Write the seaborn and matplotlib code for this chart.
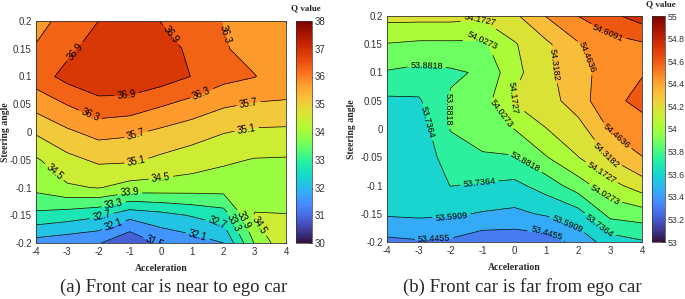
import numpy as np
import matplotlib
matplotlib.use('Agg')
import matplotlib.pyplot as plt
from matplotlib.colors import Normalize
from matplotlib.cm import ScalarMappable
import seaborn as sns

# grid of the two Q-value maps (rows from steering 0.2 down to -0.2)
accel = [-4, -3, -2, -1, 0, 1, 2, 3, 4]
steer = [0.2, 0.15, 0.1, 0.05, 0, -0.05, -0.1, -0.15, -0.2]

q_near = [
    [36.10, 36.50, 36.90, 37.20, 36.88, 36.60, 36.28, 36.00, 36.00],
    [36.35, 36.75, 37.20, 37.40, 37.20, 36.75, 36.35, 36.10, 36.00],
    [36.60, 37.10, 37.30, 37.40, 37.20, 36.88, 36.50, 36.32, 35.95],
    [35.93, 36.32, 36.73, 36.65, 36.37, 36.10, 35.79, 35.65, 35.65],
    [35.18, 35.60, 35.90, 35.81, 35.58, 35.36, 35.13, 35.00, 34.97],
    [34.43, 34.93, 35.21, 35.20, 34.98, 34.80, 34.60, 34.47, 34.45],
    [34.07, 34.42, 34.53, 34.28, 34.25, 34.20, 34.17, 34.10, 34.20],
    [33.15, 33.00, 32.80, 32.30, 32.50, 32.75, 33.00, 34.55, 34.52],
    [31.85, 31.70, 31.55, 30.95, 31.60, 31.80, 32.10, 33.95, 35.00],
]

q_far = [
    [54.22, 54.22, 54.22, 54.20, 54.29, 54.47, 54.61, 54.72, 54.82],
    [54.02, 54.00, 54.00, 54.00, 54.16, 54.29, 54.45, 54.55, 54.59],
    [53.87, 53.84, 53.86, 53.90, 54.13, 54.28, 54.42, 54.52, 54.60],
    [53.71, 53.72, 53.90, 53.96, 54.19, 54.25, 54.40, 54.57, 54.65],
    [53.69, 53.66, 53.89, 53.93, 54.03, 54.17, 54.26, 54.48, 54.55],
    [53.67, 53.65, 53.80, 53.87, 53.87, 54.02, 54.17, 54.33, 54.46],
    [53.65, 53.64, 53.74, 53.72, 53.70, 53.80, 53.96, 54.12, 54.25],
    [53.61, 53.62, 53.61, 53.58, 53.56, 53.61, 53.68, 53.93, 53.96],
    [53.41, 53.43, 53.42, 53.35, 53.35, 53.37, 53.50, 53.66, 53.72],
]

levels_near = [30.9, 31.5, 32.1, 32.7, 33.3, 33.9, 34.5, 35.1, 35.7, 36.3, 36.9, 37.5]
levels_far = [53.3, 53.4455, 53.5909, 53.7364, 53.8818, 54.0273, 54.1727,
              54.3182, 54.4636, 54.6091, 54.7545, 54.9]
cticks_near = [30, 31, 32, 33, 34, 35, 36, 37, 38]
cticks_far = [53, 53.2, 53.4, 53.6, 53.8, 54, 54.2, 54.4, 54.6, 54.8, 55]
yticks = [-0.2, -0.15, -0.1, -0.05, 0, 0.05, 0.1, 0.15, 0.2]

# where the contour labels sit in the reference (acceleration, steering)
lab_near = [(-2.75, 0.145), (0.2, 0.17), (-1.1, 0.06), (1.66, 0.17), (-2.27, 0.03),
            (1.35, 0.063), (-0.77, -0.009), (2.8, 0.052), (2.74, 0.005),
            (-0.77, -0.056), (-3.45, -0.074), (0.03, -0.095), (3.1, -0.17),
            (-1.0, -0.108), (2.53, -0.162), (-1.53, -0.126), (2.2, -0.167),
            (-1.95, -0.144), (1.8, -0.167), (-1.57, -0.159), (1.15, -0.193),
            (-0.13, -0.189)]
lab_far = [(-1.08, 0.184), (-1.02, 0.166), (-2.75, 0.117), (-2.12, 0.034),
           (-2.8, 0.011), (-0.17, 0.057), (-0.4, 0.028), (1.68, 0.117),
           (2.46, 0.131), (2.9, 0.166), (3.1, -0.02), (2.78, -0.05),
           (2.68, -0.081), (2.84, -0.117), (0.33, -0.06), (-1.11, -0.09),
           (2.75, -0.165), (-1.96, -0.161), (1.65, -0.17), (-2.53, -0.184),
           (1.05, -0.179)]

sns.set_style('white')
plt.rcParams['font.family'] = ['Liberation Sans', 'DejaVu Sans']
plt.rcParams['axes.edgecolor'] = '#333333'
plt.rcParams['axes.linewidth'] = 0.6
plt.rcParams['axes.unicode_minus'] = False

turbo = sns.color_palette('turbo', as_cmap=True)
serif = 'Liberation Serif'


def panel(ax, cax, z, levels, lo, hi, fmt, cticks, fs, cfs, lab_xy, ylab_x):
    z = np.flipud(np.array(z))
    y = steer[::-1]
    norm = Normalize(lo, hi)
    # MATLAB style: each band takes the colour of its lower level
    fills = [turbo(norm(v)) for v in levels[:-1]]
    ax.contourf(accel, y, z, levels=levels, colors=fills)
    cs = ax.contour(accel, y, z, levels=levels, colors='k', linewidths=0.5)
    ax.set_xlim(-4, 4)
    ax.set_ylim(-0.2, 0.2)
    ax.clabel(cs, fmt=fmt, fontsize=fs, inline=True, inline_spacing=3, manual=lab_xy)
    ax.set_xticks(accel)
    ax.set_yticks(yticks)
    ax.set_yticklabels([f'{t:g}' for t in yticks])
    ax.tick_params(direction='in', length=2.5, width=0.5, labelsize=7,
                   colors='#333333', top=True, right=True, pad=3)
    ax.set_xlabel('Acceleration', family=serif, fontweight='bold', fontsize=7, labelpad=5)
    ax.set_ylabel('Steering angle', family=serif, fontweight='bold', fontsize=7)
    ax.yaxis.set_label_coords(ylab_x, 0.5)
    cb = plt.colorbar(ScalarMappable(norm=norm, cmap=turbo), cax=cax, ticks=cticks)
    cb.ax.set_yticklabels([f'{t:g}' for t in cticks])
    cb.ax.tick_params(direction='in', length=2, width=0.5, labelsize=cfs,
                      colors='#333333', pad=2)
    cb.outline.set_linewidth(0.5)


fig = plt.figure(figsize=(6.85, 2.99), dpi=100)
ax1 = fig.add_axes([36 / 685, 1 - 243 / 299, 250 / 685, 222 / 299])
cax1 = fig.add_axes([296 / 685, 1 - 243 / 299, 16 / 685, 222 / 299])
ax2 = fig.add_axes([387 / 685, 1 - 242 / 299, 255 / 685, 226 / 299])
cax2 = fig.add_axes([652 / 685, 1 - 242 / 299, 13 / 685, 226 / 299])

panel(ax1, cax1, q_near, levels_near, 30, 38, '%.1f', cticks_near, 7, 7, lab_near, -0.105)
panel(ax2, cax2, q_far, levels_far, 53, 55, '%.4f', cticks_far, 6.5, 6.3, lab_far, -0.12)

fig.text(306 / 685, 1 - 8 / 299, 'Q value', family=serif, fontweight='bold',
         fontsize=6.5, ha='center', va='center')
fig.text(661 / 685, 1 - 4 / 299, 'Q value', family=serif, fontweight='bold',
         fontsize=6.5, ha='center', va='center')

fig.text(174 / 685, 1 - 287 / 299, '(a) Front car is near to ego car',
         family=serif, fontsize=13.5, ha='center', va='center')
fig.text(522 / 685, 1 - 287 / 299, '(b) Front car is far from ego car',
         family=serif, fontsize=13.5, ha='center', va='center')

fig.savefig('out.png', dpi=100)
